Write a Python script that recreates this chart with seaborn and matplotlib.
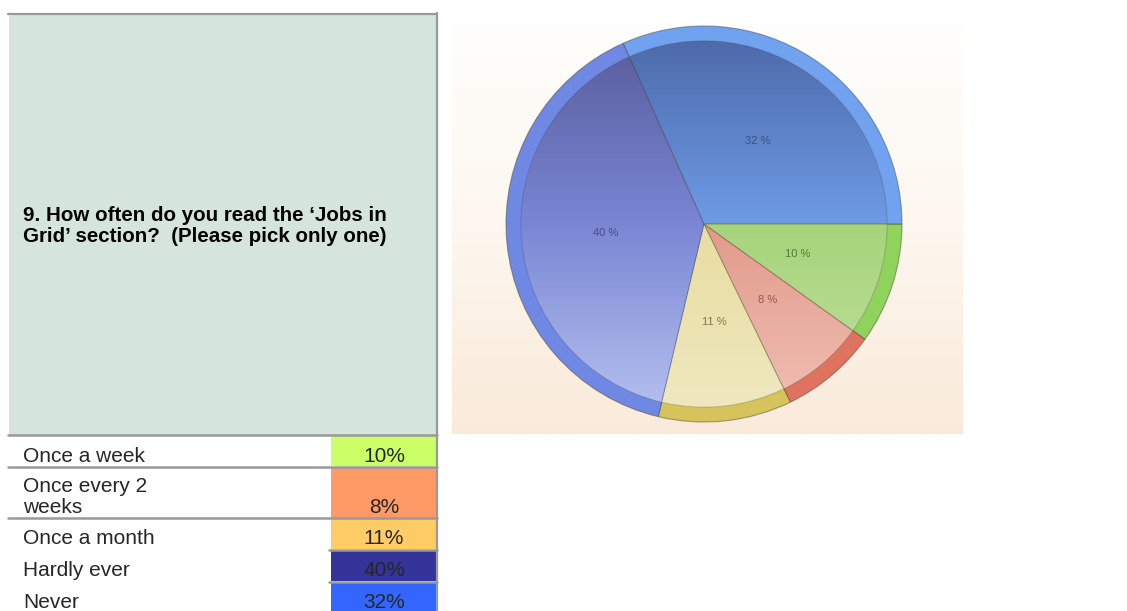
import numpy as np
import matplotlib
matplotlib.use("Agg")
import matplotlib.pyplot as plt
from matplotlib.colors import LinearSegmentedColormap
import seaborn as sns

sns.set_style("white")
plt.rcParams['font.family'] = ['Liberation Sans', 'DejaVu Sans']

# ---------------- data ----------------
question = "9. How often do you read the \u2018Jobs in\nGrid\u2019 section?  (Please pick only one)"
categories = ["Once a week", "Once every 2\nweeks", "Once a month", "Hardly ever", "Never"]
values = [10, 8, 11, 40, 32]
cell_colors = ["#CCFF66", "#FF9966", "#FFCC66", "#333399", "#3366FF"]
# pie styling (rim colour, gradient top / middle / bottom colours, label colour)
rim_colors = ["#8FD25C", "#E0735F", "#D6C35C", "#6E88E4", "#70A2F0"]
grad_top = ["#98CC66", "#D98676", "#E0D288", "#565A98", "#4B67A6"]
grad_mid = ["#A6D47A", "#E29A8A", "#E8DDA0", "#7A86D4", "#6E9BE6"]
grad_bot = ["#C4E2A2", "#F0C2B6", "#F0E8C2", "#B8C4F0", "#98CCFF"]
label_colors = ["#3F6A2A", "#8A4A44", "#6A6636", "#3C4278", "#34467A"]

W, H = 1127, 611
fig = plt.figure(figsize=(W / 100, H / 100), dpi=100)

# ---------------- left table panel ----------------
tab = fig.add_axes([0, 0, 1, 1])
tab.set_xlim(0, W)
tab.set_ylim(H, 0)
tab.axis("off")

grey = "#999999"
tab.add_patch(plt.Rectangle((9, 13), 428, 422, facecolor="#D6E5DC", edgecolor="none"))
tab.plot([8, 437], [13.5, 13.5], color=grey, lw=1.6)
tab.plot([437, 437], [13, 611], color=grey, lw=1.6)
tab.text(23, 226, question, fontsize=14.8, fontweight="bold", va="center", ha="left",
         linespacing=1.15, color="black")

row_edges = [435, 466.5, 518, 549.5, 581.5, 613]
for i, (lab, val, col) in enumerate(zip(categories, values, cell_colors)):
    y0, y1 = row_edges[i], row_edges[i + 1]
    tab.add_patch(plt.Rectangle((331, y0 + 1), 105, y1 - y0 - 1.5, facecolor=col, edgecolor="none"))
    tab.text(23, y1 - 5, lab, fontsize=15, va="baseline", ha="left", linespacing=1.12)
    tab.text(384, y1 - 5, f"{val}%", fontsize=15, va="baseline", ha="center")
for k, y in enumerate(row_edges[:-1]):
    x0 = 8 if k <= 2 else 329
    tab.plot([x0, 437], [y, y], color=grey, lw=1.8)

# ---------------- pie background ----------------
bg = fig.add_axes([452 / W, 1 - 434 / H, (963 - 452) / W, (434 - 25) / H])
bg.axis("off")
bg_cmap = LinearSegmentedColormap.from_list("bg", ["#FFFEFC", "#FDF7EF", "#FAEAD9"])
bg.imshow(np.linspace(0, 1, 256)[:, None], aspect="auto", cmap=bg_cmap, extent=[0, 1, 0, 1])
bg.set_xlim(0, 1)
bg.set_ylim(0, 1)

# ---------------- pie ----------------
cx, cy, R = 704, 224, 198
pie_ax = fig.add_axes([(cx - R) / W, 1 - (cy + R) / H, 2 * R / W, 2 * R / H])
pie_ax.patch.set_alpha(0)

# outer rim
pie_ax.pie(values, colors=rim_colors, startangle=0, counterclock=False, radius=1.0,
           wedgeprops=dict(edgecolor=(0.25, 0.25, 0.2, 0.45), linewidth=0.8))
# inner wedges with vertical gradients
inner, texts = pie_ax.pie(values, colors=grad_top, startangle=0, counterclock=False, radius=0.925,
                          labels=[f"{v} %" for v in values], labeldistance=0.54,
                          wedgeprops=dict(edgecolor=(0.25, 0.25, 0.2, 0.22), linewidth=0.8),
                          textprops=dict(fontsize=8))
grad = np.linspace(1, 0, 256)[:, None]
for w, ct, cm, cb, t, lc in zip(inner, grad_top, grad_mid, grad_bot, texts, label_colors):
    cmap = LinearSegmentedColormap.from_list("g", [cb, cm, ct])
    im = pie_ax.imshow(grad, extent=[-1, 1, -1, 1], cmap=cmap, aspect="auto", zorder=1.5,
                       origin="upper")
    im.set_clip_path(w)
    t.set_color(lc)
    t.set_alpha(0.85)
    t.set_zorder(3)
    t.set_ha("center")
    t.set_va("center")
for w in inner:
    w.set_facecolor("none")
    w.set_zorder(2)
pie_ax.set_xlim(-1, 1)
pie_ax.set_ylim(-1, 1)
pie_ax.set_aspect("auto")
pie_ax.axis("off")

fig.savefig("out.png", dpi=100)
